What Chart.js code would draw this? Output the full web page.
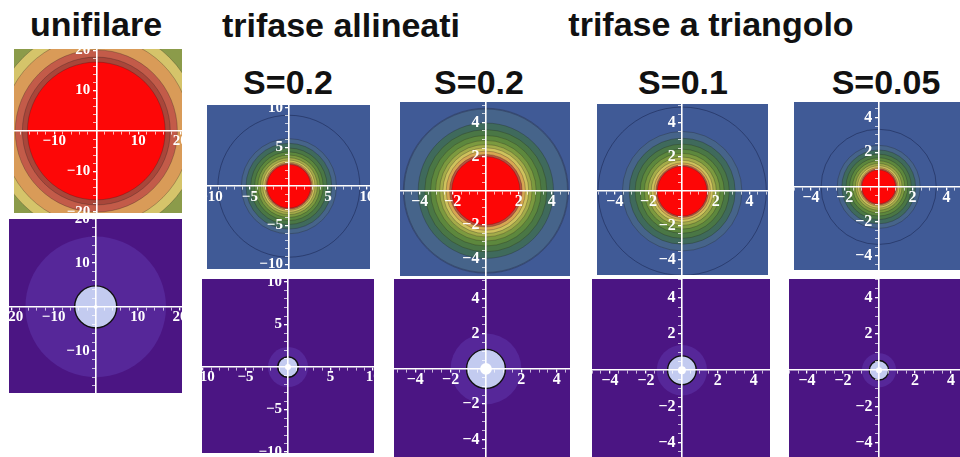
<!DOCTYPE html>
<html>
<head>
<meta charset="utf-8">
<script src="https://cdn.jsdelivr.net/npm/chart.js@4.4.1/dist/chart.umd.min.js"></script>
<style>
body{margin:0;background:#fff;width:960px;height:457px;overflow:hidden;position:relative;font-family:"Liberation Sans",Arial,sans-serif}
.t{position:absolute;font-weight:bold;font-size:34px;line-height:34px;color:#111;white-space:nowrap;transform:translateX(-50%)}
canvas{position:absolute}
</style>
</head>
<body>
<script>
// titles
var groupTitles = ['unifilare', 'trifase allineati', 'trifase a triangolo'];
var caseLabels = ['S=0.2', 'S=0.2', 'S=0.1', 'S=0.05'];

// tick labels
var ticksUnifilare = [-20, -10, 10, 20];
var ticksAllineati = [-10, -5, 5, 10];
var ticksTriangolo = [-4, -2, 2, 4];
// spacing of the small unlabeled ticks
var minorUnifilare = 2;
var minorAllineati = 1;
var minorTriangolo = 0.5;

// contour radii, outer -> inner (top row)
var radiiUnifilare = [24.7, 22.4, 19.3, 17.6, 16.4];
var radiiAll02 = [9.1, 6.1, 5.5, 4.9, 4.4, 4.0, 3.65, 3.35, 3.1, 2.95, 2.8];
var radiiTri02 = [5.0, 4.95, 4.1, 3.7, 3.35, 3.05, 2.8, 2.6, 2.4, 2.2, 2.07];
var radiiTri01 = [5.0, 3.55, 3.15, 2.8, 2.5, 2.25, 2.03, 1.84, 1.68, 1.56, 1.48];
var radiiTri005 = [3.4, 2.45, 2.18, 1.93, 1.72, 1.54, 1.38, 1.25, 1.14, 1.07, 1.0];

// bottom row: outer halo, conductor disk, centre dot
var haloRadius = [16.7, 2.35, 2.0, 1.4, 0.95];
var diskRadius = [5.0, 1.2, 1.1, 0.8, 0.54];
var dotRadius = [0.45, 0.35, 0.33, 0.22, 0.17];

// colours
var unifilareBg = '#8b9b4a';
var unifilareColors = ['#d5c46a', '#d99b58', '#c35b49', '#a9463a', '#fd0707'];
var blueBg = '#405a96';
var bandColors = ['#405a96', '#46648a', '#3f6a5c', '#4a7745', '#5d883d', '#7c9a3f', '#a4ac49', '#cfc25c', '#d8a652', '#b9533f', '#fd0606'];
var purpleBg = '#4b1583';
var bottomColors = ['#562799', '#c3cbf0', '#ffffff'];

function addTitle(text, cx, top) {
  var d = document.createElement('div');
  d.className = 't';
  d.textContent = text;
  d.style.left = cx + 'px';
  d.style.top = top + 'px';
  document.body.appendChild(d);
}

addTitle(groupTitles[0], 96, 7);
addTitle(groupTitles[1], 341, 8);
addTitle(groupTitles[2], 711, 7);
addTitle(caseLabels[0], 288, 65);
addTitle(caseLabels[1], 479, 65);
addTitle(caseLabels[2], 683, 65);
addTitle(caseLabels[3], 886, 65);

function fmt(v) {
  return v < 0 ? '\u2212' + Math.abs(v) : String(v);
}

function px(chart, r) {
  var s = chart.scales.x;
  if (!s) return 0;
  var d = Math.abs(s.getPixelForValue(r) - s.getPixelForValue(0));
  return isFinite(d) ? d : 0;
}

function axis(min, max, ticks, minor, pos, size, isY) {
  var isMajor = function (v) { return ticks.indexOf(v) >= 0; };
  return {
    type: 'linear',
    min: min,
    max: max,
    bounds: 'data',
    position: pos,
    afterBuildTicks: function (s) {
      var all = [];
      var n = Math.ceil(Math.max(-min, max) / minor);
      for (var k = -n; k <= n; k++) {
        var v = Math.round(k * minor * 100) / 100;
        if (v !== 0 && v >= min && v <= max) all.push({value: v});
      }
      s.ticks = all;
    },
    afterFit: function (s) {
      s.paddingLeft = 0; s.paddingRight = 0; s.paddingTop = 0; s.paddingBottom = 0;
    },
    border: {color: '#fff', width: 1.6, z: 1},
    grid: {
      drawOnChartArea: false, color: '#fff', tickLength: 3, z: 1,
      lineWidth: function (c) { return c.tick && isMajor(c.tick.value) ? 1.3 : 0.7; }
    },
    ticks: {
      z: 2,
      autoSkip: false, maxRotation: 0, minRotation: 0, padding: 0, color: '#fff',
      font: {family: '"Liberation Serif", "Times New Roman", serif', weight: 'bold', size: size, lineHeight: 1},
      callback: function (v) {
        if (!isMajor(v)) return '';
        return isY ? fmt(v) + '\u2009\u2009' : fmt(v);
      }
    }
  };
}

function plot(box, xr, yr, ticks, minor, radii, colors, borders, widths, bg, size) {
  var c = document.createElement('canvas');
  c.width = box[2]; c.height = box[3];
  c.style.left = box[0] + 'px'; c.style.top = box[1] + 'px';
  c.style.background = bg;
  document.body.appendChild(c);
  new Chart(c, {
    type: 'scatter',
    data: {
      datasets: [{
        data: radii.map(function () { return {x: 0, y: 0}; }),
        pointRadius: function (ctx) { return px(ctx.chart, radii[ctx.dataIndex]); },
        pointHoverRadius: function (ctx) { return px(ctx.chart, radii[ctx.dataIndex]); },
        pointBackgroundColor: colors,
        pointBorderColor: borders,
        pointBorderWidth: widths,
        clip: 0
      }]
    },
    options: {
      responsive: false,
      animation: false,
      events: [],
      layout: {padding: 0, autoPadding: false},
      plugins: {legend: {display: false}, tooltip: {enabled: false}},
      scales: {
        x: axis(xr[0], xr[1], ticks, minor, {y: 0}, size, false),
        y: axis(yr[0], yr[1], ticks, minor, {x: 0}, size, true)
      }
    }
  });
}

var line = 'rgba(30,30,30,0.35)';
var ring = 'rgba(20,30,70,0.6)';
function bandBorders(n) { var a = [ring]; for (var i = 1; i < n; i++) a.push(line); return a; }
function plainBorders(n) { var a = []; for (var i = 0; i < n; i++) a.push(line); return a; }
function bandWidths(n) { var a = []; for (var i = 0; i < n; i++) a.push(0.8); return a; }

// top row
plot([14, 49, 168, 164], [-19.6, 20.4], [-20.3, 20.3], ticksUnifilare, minorUnifilare, radiiUnifilare, unifilareColors,
  plainBorders(5), bandWidths(5), unifilareBg, 15);
plot([207, 105, 163, 164], [-10.5, 10.4], [-10.6, 10.4], ticksAllineati, minorAllineati, radiiAll02, bandColors,
  bandBorders(11), bandWidths(11), blueBg, 15);
plot([400, 102, 170, 174], [-5.2, 5.1], [-5.0, 5.2], ticksTriangolo, minorTriangolo, radiiTri02, bandColors,
  plainBorders(11), bandWidths(11), blueBg, 16);
plot([597, 104, 171, 171], [-5.06, 5.1], [-4.9, 5.1], ticksTriangolo, minorTriangolo, radiiTri01, bandColors,
  bandBorders(11), bandWidths(11), blueBg, 16);
plot([794, 102, 166, 168], [-5.0, 4.8], [-4.8, 4.9], ticksTriangolo, minorTriangolo, radiiTri005, bandColors,
  bandBorders(11), bandWidths(11), blueBg, 16);

// bottom row
var bottomBoxes = [[9, 219, 173, 174], [202, 279, 172, 174], [394, 279, 176, 178], [592, 279, 178, 178], [789, 279, 171, 178]];
var bottomX = [[-20.6, 20.5], [-10.1, 10.1], [-5.2, 4.75], [-5.0, 4.9], [-5.0, 4.5]];
var bottomY = [[-19.6, 20.0], [-10.1, 10.35], [-5.0, 5.1], [-4.8, 5.05], [-4.8, 5.05]];
var bottomTicks = [ticksUnifilare, ticksAllineati, ticksTriangolo, ticksTriangolo, ticksTriangolo];
var bottomMinor = [minorUnifilare, minorAllineati, minorTriangolo, minorTriangolo, minorTriangolo];
var bottomSize = [15, 15, 16, 16, 16];
for (var i = 0; i < 5; i++) {
  plot(bottomBoxes[i], bottomX[i], bottomY[i], bottomTicks[i], bottomMinor[i],
    [haloRadius[i], diskRadius[i], dotRadius[i]], bottomColors,
    ['rgba(0,0,0,0)', '#111', 'rgba(0,0,0,0)'], [0, 1.4, 0], purpleBg, bottomSize[i]);
}
</script>
</body>
</html>
